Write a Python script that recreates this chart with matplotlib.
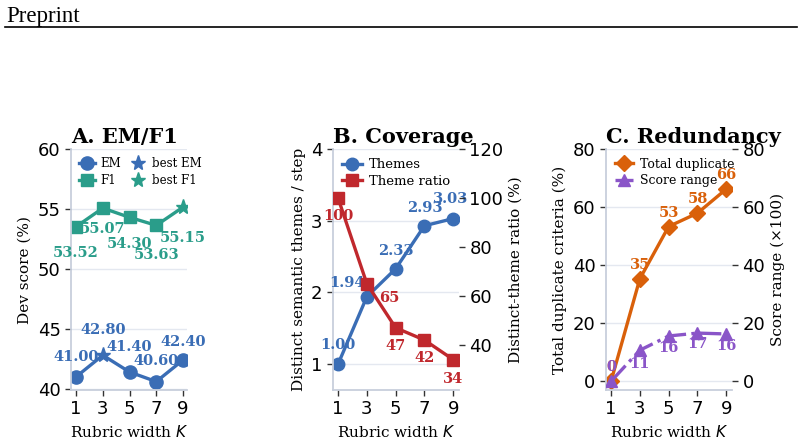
import matplotlib
matplotlib.use("Agg")
import matplotlib.pyplot as plt
from matplotlib.lines import Line2D

# ── data ───────────────────────────────────────────────────────────
K = [1, 3, 5, 7, 9]
em = [41.00, 42.80, 41.40, 40.60, 42.40]
f1 = [53.52, 55.07, 54.30, 53.63, 55.15]
themes = [1.00, 1.94, 2.33, 2.93, 3.03]
theme_ratio = [100, 65, 47, 42, 34]
total_dup = [0, 35.3, 53.3, 57.9, 66.2]
score_range = [0, 10.7, 15.6, 16.6, 16.3]

C_EM, C_F1 = "#3a6db5", "#2a9d8a"
C_TH, C_TR = "#3a6db5", "#c0282d"
C_DUP, C_SR = "#d9600a", "#8a55c8"
SPINE = "#c8cfdc"
GRID = "#e4e8f0"

plt.rcParams["font.family"] = "DejaVu Serif"
plt.rcParams["mathtext.fontset"] = "dejavusans"

fig = plt.figure(figsize=(8.04, 4.43), dpi=100)

# page header
fig.text(6 / 804, 1 - 22 / 443, "Preprint", family="Liberation Serif",
         fontsize=16.5, va="baseline", ha="left")
fig.add_artist(Line2D([5 / 804, 797 / 804], [1 - 27 / 443] * 2,
                      color="black", linewidth=1.2))


def style(ax, ylim, xlim):
    for s in ["top", "right"]:
        ax.spines[s].set_visible(False)
    for s in ["left", "bottom"]:
        ax.spines[s].set_color(SPINE)
        ax.spines[s].set_linewidth(1.3)
    ax.set_xticks(K)
    ax.set_xlim(*xlim)
    ax.set_ylim(*ylim)
    ax.tick_params(labelsize=13, length=4, color="#333333", width=1)
    for t in ax.get_xticklabels() + ax.get_yticklabels():
        t.set_family("DejaVu Sans")
    ax.grid(axis="y", color=GRID, linewidth=1)
    ax.set_axisbelow(True)
    ax.set_xlabel(r"Rubric width $K$", fontsize=11)


def label(ax, xs, ys, texts, color, offsets):
    for x, y, t, (dx, dy) in zip(xs, ys, texts, offsets):
        ax.annotate(t, (x, y), textcoords="offset points", xytext=(dx, dy),
                    ha="center", va="center", fontsize=10.5,
                    fontweight="bold", color=color)


def right_axis(ax, ylim, ticks):
    ax.set_ylim(*ylim)
    ax.set_yticks(ticks)
    for s in ax.spines.values():
        s.set_visible(False)
    ax.tick_params(labelsize=13, length=4, color="#333333", width=1)
    for t in ax.get_yticklabels():
        t.set_family("DejaVu Sans")


bottom, height = 53 / 443, 241 / 443

# ── A: EM / F1 ─────────────────────────────────────────────────────
ax1 = fig.add_axes([71 / 804, bottom, 116 / 804, height])
best_em = em.index(max(em))
best_f1 = f1.index(max(f1))
ax1.plot(K, em, color=C_EM, linewidth=2.4, marker="o", markersize=9.5,
         markevery=[i for i in range(len(K)) if i != best_em], label="EM")
ax1.plot(K, f1, color=C_F1, linewidth=2.4, marker="s", markersize=9,
         markevery=[i for i in range(len(K)) if i != best_f1], label="F1")
ax1.plot(K[best_em], em[best_em], linestyle="none", marker="*",
         markersize=11, color=C_EM, label="best EM")
ax1.plot(K[best_f1], f1[best_f1], linestyle="none", marker="*",
         markersize=11, color=C_F1, label="best F1")
label(ax1, K, em, [f"{v:.2f}" for v in em], C_EM,
      [(0, 14), (0, 18), (0, 18), (0, 15), (0, 13)])
label(ax1, K, f1, [f"{v:.2f}" for v in f1], C_F1,
      [(0, -19), (0, -15), (0, -19), (0, -21), (0, -22)])
style(ax1, (39.9, 60), (0.62, 9.3))
ax1.set_yticks([40, 45, 50, 55, 60])
ax1.set_ylabel("Dev score (%)", fontsize=11)
ax1.set_title("A. EM/F1", fontsize=15, fontweight="bold", pad=4, loc="left")
ax1.legend(ncol=2, loc="upper left", frameon=False, fontsize=8.5,
           handlelength=1.3, columnspacing=0.8, handletextpad=0.5,
           borderaxespad=0.3, labelspacing=0.3)

# ── B: Coverage ────────────────────────────────────────────────────
ax2 = fig.add_axes([333 / 804, bottom, 126 / 804, height])
ax2b = ax2.twinx()
l1, = ax2.plot(K, themes, color=C_TH, linewidth=2.4, marker="o",
               markersize=9, label="Themes")
l2, = ax2b.plot(K, theme_ratio, color=C_TR, linewidth=2.4, marker="s",
                markersize=8.5, label="Theme ratio")
label(ax2, K, themes, [f"{v:.2f}" for v in themes], C_TH,
      [(0, 14), (-14, 10), (0, 13), (0, 13), (-2, 14)])
label(ax2b, K, theme_ratio, [str(v) for v in theme_ratio], C_TR,
      [(0, -13), (16, -10), (0, -13), (0, -13), (0, -14)])
style(ax2, (0.64, 4), (0.65, 9.4))
ax2.set_yticks([1, 2, 3, 4])
right_axis(ax2b, (21.6, 120), [40, 60, 80, 100, 120])
ax2.set_ylabel("Distinct semantic themes / step", fontsize=11)
ax2b.set_ylabel("Distinct-theme ratio (%)", fontsize=11)
ax2.set_title("B. Coverage", fontsize=15, fontweight="bold", pad=4, loc="left")
ax2.legend([l1, l2], ["Themes", "Theme ratio"], loc="upper left",
           frameon=False, fontsize=9.5, handlelength=1.5, handletextpad=0.5,
           borderaxespad=0.3, labelspacing=0.25)

# ── C: Redundancy ──────────────────────────────────────────────────
ax3 = fig.add_axes([606 / 804, bottom, 126 / 804, height])
ax3b = ax3.twinx()
l3, = ax3.plot(K, total_dup, color=C_DUP, linewidth=2.4, marker="D",
               markersize=8, label="Total duplicate")
l4, = ax3b.plot(K, score_range, color=C_SR, linewidth=2.4, linestyle="-.",
                marker="^", markersize=9, label="Score range")
label(ax3, K, total_dup, [f"{v:.0f}" for v in total_dup], C_DUP,
      [(0, 10), (0, 10), (0, 10), (0, 10), (0, 10)])
label(ax3b, K, score_range, [f"{v:.0f}" for v in score_range], C_SR,
      [(0, 10), (0, -10), (0, -9), (0, -8), (0, -9)])
style(ax3, (-3, 80), (0.65, 9.4))
ax3.set_yticks([0, 20, 40, 60, 80])
right_axis(ax3b, (-3, 80), [0, 20, 40, 60, 80])
ax3.set_ylabel("Total duplicate criteria (%)", fontsize=11)
ax3b.set_ylabel("Score range (×100)", fontsize=11)
ax3.set_title("C. Redundancy", fontsize=15, fontweight="bold", pad=4, loc="left")
ax3.legend([l3, l4], ["Total duplicate", "Score range"], loc="upper left",
           frameon=False, fontsize=9, handlelength=1.5, handletextpad=0.5,
           borderaxespad=0.3, labelspacing=0.25)

fig.savefig("out.png", dpi=100)
